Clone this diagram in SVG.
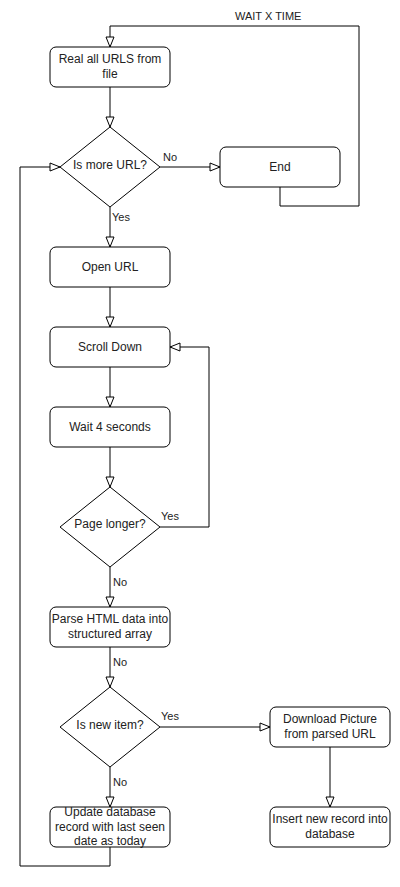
<svg xmlns="http://www.w3.org/2000/svg" width="400" height="887" viewBox="0 0 400 887">
<style>
.n{fill:#fff;stroke:#000;stroke-width:1}
.t{font-family:"Liberation Sans",Arial,sans-serif;font-size:12px;fill:#222;text-anchor:middle}
.l{font-family:"Liberation Sans",Arial,sans-serif;font-size:11px;fill:#222}
.e{fill:none;stroke:#000;stroke-width:1;marker-end:url(#a)}
</style>
<defs>
<marker id="a" markerUnits="userSpaceOnUse" markerWidth="12" markerHeight="10" viewBox="0 0 12 10" refX="11" refY="5" orient="auto">
<path d="M1,1 L11,5 L1,9 Z" fill="#fff" stroke="#000" stroke-width="1"/>
</marker>
</defs>
<rect width="400" height="887" fill="#fff"/>
<g id="connectors">
<path class="e" d="M110,87 V127"/>
<path class="e" d="M160,167 H220"/>
<path class="e" d="M110,207 V247"/>
<path class="e" d="M110,287 V327"/>
<path class="e" d="M110,367 V407"/>
<path class="e" d="M110,447 V487"/>
<path class="e" d="M160,527 H209 V347 H170"/>
<path class="e" d="M110,567 V607"/>
<path class="e" d="M110,647 V687"/>
<path class="e" d="M160,727 H270"/>
<path class="e" d="M110,767 V807"/>
<path class="e" d="M330,747 V807"/>
<path class="e" d="M110,847 V866 H20 V167 H60"/>
<path class="e" d="M280,187 V206 H359 V26 H110 V47"/>
<text class="l" x="235" y="20">WAIT X TIME</text>
<text class="l" x="163" y="161">No</text>
<text class="l" x="112" y="221">Yes</text>
<text class="l" x="161" y="520">Yes</text>
<text class="l" x="113" y="586">No</text>
<text class="l" x="113" y="666">No</text>
<text class="l" x="161" y="720">Yes</text>
<text class="l" x="113" y="786">No</text>
</g>
<g id="read">
<rect class="n" x="50" y="47" width="120" height="40" rx="6"/>
<text class="t" x="110" y="63">Real all URLS from</text>
<text class="t" x="110" y="77.5">file</text>
</g>
<g id="more">
<path class="n" d="M110,127 L160,167 L110,207 L60,167 Z"/>
<text class="t" x="110" y="169">Is more URL?</text>
</g>
<g id="end">
<rect class="n" x="220" y="147" width="120" height="40" rx="6"/>
<text class="t" x="280" y="171">End</text>
</g>
<g id="open">
<rect class="n" x="50" y="247" width="120" height="40" rx="6"/>
<text class="t" x="110" y="271">Open URL</text>
</g>
<g id="scroll">
<rect class="n" x="50" y="327" width="120" height="40" rx="6"/>
<text class="t" x="110" y="351">Scroll Down</text>
</g>
<g id="wait">
<rect class="n" x="50" y="407" width="120" height="40" rx="6"/>
<text class="t" x="110" y="431">Wait 4 seconds</text>
</g>
<g id="longer">
<path class="n" d="M110,487 L160,527 L110,567 L60,527 Z"/>
<text class="t" x="110" y="528">Page longer?</text>
</g>
<g id="parse">
<rect class="n" x="50" y="607" width="120" height="40" rx="6"/>
<text class="t" x="110" y="623">Parse HTML data into</text>
<text class="t" x="110" y="637.5">structured array</text>
</g>
<g id="newitem">
<path class="n" d="M110,687 L160,727 L110,767 L60,727 Z"/>
<text class="t" x="110" y="729">Is new item?</text>
</g>
<g id="download">
<rect class="n" x="270" y="707" width="120" height="40" rx="6"/>
<text class="t" x="330" y="723">Download Picture</text>
<text class="t" x="330" y="737.5">from parsed URL</text>
</g>
<g id="update">
<rect class="n" x="50" y="807" width="120" height="40" rx="6"/>
<text class="t" x="110" y="816">Update database</text>
<text class="t" x="110" y="830.5">record with last seen</text>
<text class="t" x="110" y="845">date as today</text>
</g>
<g id="insert">
<rect class="n" x="270" y="807" width="120" height="40" rx="6"/>
<text class="t" x="330" y="823">Insert new record into</text>
<text class="t" x="330" y="837.5">database</text>
</g>
</svg>
